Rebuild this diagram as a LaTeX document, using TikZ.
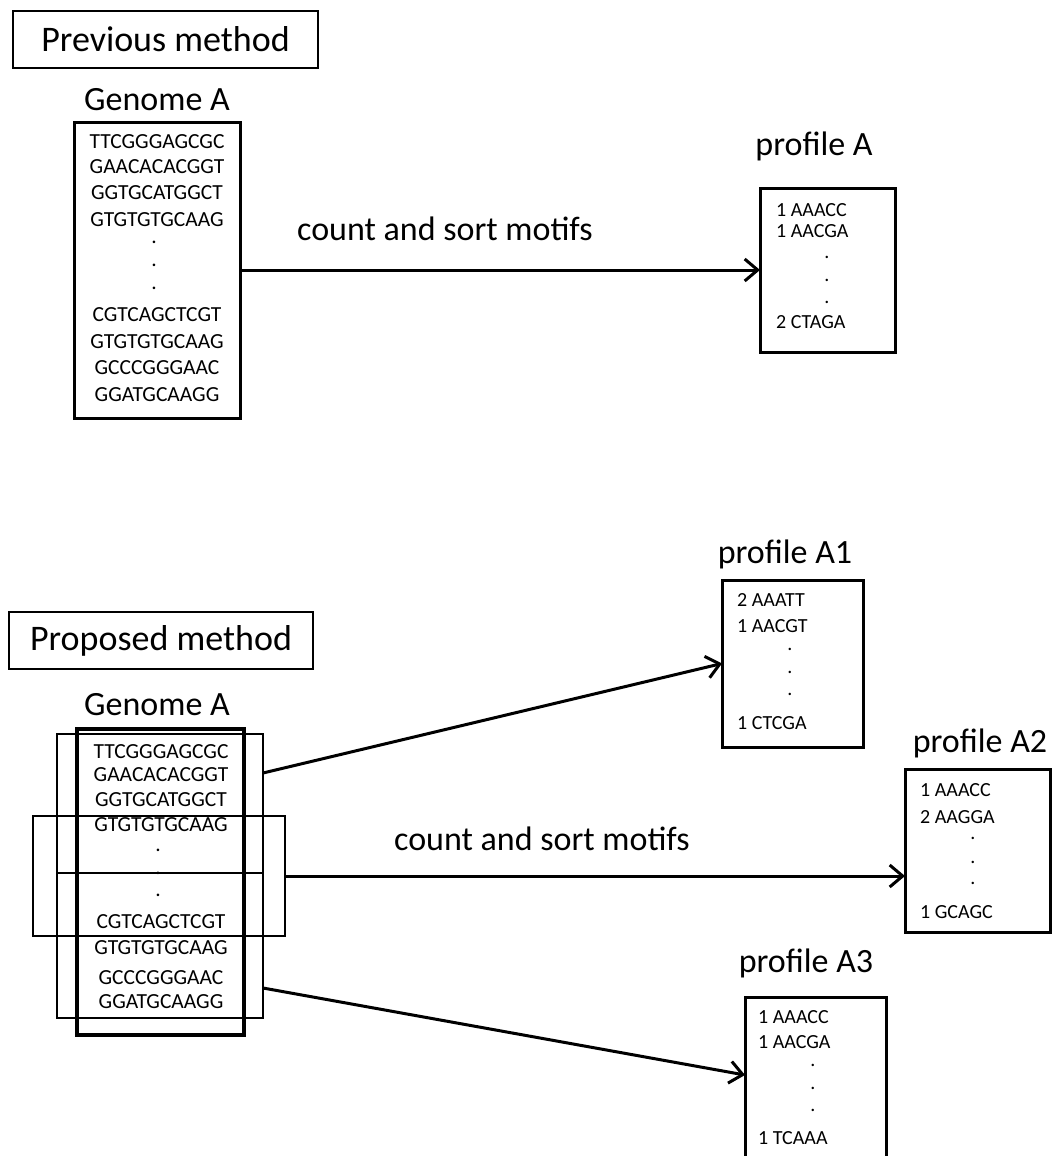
\documentclass[tikz,border=0pt]{standalone}
\usepackage{fontspec}
\setmainfont{Carlito}
\usetikzlibrary{arrows.meta}
\begin{document}
\begin{tikzpicture}[x=1pt,y=-1pt,
  title/.style={font=\fontsize{34}{40}\selectfont, anchor=base, inner sep=0pt},
  head/.style={font=\fontsize{36}{42}\selectfont, draw, line width=1.2pt, inner sep=0pt},
  seq/.style={font=\fontsize{21.5}{24}\selectfont, inner sep=0pt},
  prof/.style={font=\fontsize{20}{24}\selectfont, inner sep=0pt, anchor=west},
  pdot/.style={font=\fontsize{20}{24}\selectfont, inner sep=0pt},
  thickbox/.style={draw, line width=3pt, inner sep=0pt, outer sep=0pt},
  midbox/.style={draw, line width=2pt, inner sep=0pt, outer sep=0pt},
  widebox/.style={draw, line width=1.6pt, inner sep=0pt, outer sep=0pt},
  arr/.style={line width=3pt, -{Straight Barb[length=13pt,width=22pt]}}]
\clip (0,0) rectangle (1064,1156);
\fill[white] (0,0) rectangle (1064,1156);

% ---------------- Previous method ----------------
\node[head, minimum width=305pt, minimum height=57pt] (prevhead) at (165.5,39.5) {Previous method};
\node[title] (gAtitle) at (157,110) {Genome A};
\node[thickbox, minimum width=166pt, minimum height=296pt] (genA) at (157,270) {};
\node[seq] (pa1) at (157,142) {TTCGGGAGCGC};
\node[seq] (pa2) at (157,167) {GAACACACGGT};
\node[seq] (pa3) at (157,193) {GGTGCATGGCT};
\node[seq] (pa4) at (157,220) {GTGTGTGCAAG};
\node[seq] (pa5) at (154,242) {.};
\node[seq] (pa6) at (154,265) {.};
\node[seq] (pa7) at (154,288) {.};
\node[seq] (pa8) at (157,315) {CGTCAGCTCGT};
\node[seq] (pa9) at (157,342) {GTGTGTGCAAG};
\node[seq] (pa10) at (157,368) {GCCCGGGAAC};
\node[seq] (pa11) at (157,395) {GGATGCAAGG};

\node[title] (pAtitle) at (814,155) {profile A};
\node[thickbox, minimum width=135pt, minimum height=164pt] (profA) at (827.5,270) {};
\node[prof] (qa1) at (776,210) {1 AAACC};
\node[prof] (qa2) at (776,231) {1 AACGA};
\node[pdot] (qa3) at (827,257) {.};
\node[pdot] (qa4) at (827,280) {.};
\node[pdot] (qa5) at (827,302) {.};
\node[prof] (qa6) at (776,322) {2 CTAGA};

\node[title] (cs1) at (445,240) {count and sort motifs};
\draw[arr] (genA.east) -- (profA.west);

% ---------------- Proposed method ----------------
\node[head, minimum width=304pt, minimum height=57pt] (prophead) at (161,640.5) {Proposed method};
\node[title] (gBtitle) at (157,715) {Genome A};
\node[thickbox, line width=3.5pt, minimum width=167pt, minimum height=306pt] (genB) at (160.5,882) {};
\node[midbox, minimum width=206pt, minimum height=139pt] (win1) at (160,803.5) {};
\node[widebox, minimum width=252pt, minimum height=120pt] (win2) at (159,876) {};
\node[midbox, minimum width=206pt, minimum height=145pt] (win3) at (160,945.5) {};
\node[seq] (pb1) at (161,752) {TTCGGGAGCGC};
\node[seq] (pb2) at (161,775) {GAACACACGGT};
\node[seq] (pb3) at (161,800) {GGTGCATGGCT};
\node[seq] (pb4) at (161,825) {GTGTGTGCAAG};
\node[seq] (pb5) at (158,850) {.};
\node[seq] (pb6) at (158,873) {.};
\node[seq] (pb7) at (158,895) {.};
\node[seq] (pb8) at (161,922) {CGTCAGCTCGT};
\node[seq] (pb9) at (161,948) {GTGTGTGCAAG};
\node[seq] (pb10) at (161,978) {GCCCGGGAAC};
\node[seq] (pb11) at (161,1002) {GGATGCAAGG};

% profile A1
\node[title] (pA1title) at (785,563) {profile A1};
\node[thickbox, minimum width=141pt, minimum height=167pt] (profA1) at (792.5,663.5) {};
\node[prof] (qb1) at (737,600) {2 AAATT};
\node[prof] (qb2) at (737,626) {1 AACGT};
\node[pdot] (qb3) at (790,649) {.};
\node[pdot] (qb4) at (790,672) {.};
\node[pdot] (qb5) at (790,694) {.};
\node[prof] (qb6) at (737,723) {1 CTCGA};

% profile A2
\node[title] (pA2title) at (980,752) {profile A2};
\node[thickbox, minimum width=145pt, minimum height=163pt] (profA2) at (977.5,850.5) {};
\node[prof] (qc1) at (920,790) {1 AAACC};
\node[prof] (qc2) at (920,817) {2 AAGGA};
\node[pdot] (qc3) at (973,838) {.};
\node[pdot] (qc4) at (973,862) {.};
\node[pdot] (qc5) at (973,883) {.};
\node[prof] (qc6) at (920,912) {1 GCAGC};

% profile A3
\node[title] (pA3title) at (806,972) {profile A3};
\node[thickbox, minimum width=141pt, minimum height=183pt] (profA3) at (815.5,1088.5) {};
\node[prof] (qd1) at (758,1017) {1 AAACC};
\node[prof] (qd2) at (758,1042) {1 AACGA};
\node[pdot] (qd3) at (813,1065) {.};
\node[pdot] (qd4) at (813,1088) {.};
\node[pdot] (qd5) at (813,1110) {.};
\node[prof] (qd6) at (758,1138) {1 TCAAA};

\node[title] (cs2) at (542,850) {count and sort motifs};

\draw[arr] ([yshift=30.5pt]win1.east) -- (profA1.west);
\draw[arr] (win2.east) -- (profA2.west |- win2.east);
\draw[arr] ([yshift=-42.5pt]win3.east) -- ([yshift=13.5pt]profA3.west);
\end{tikzpicture}
\end{document}
